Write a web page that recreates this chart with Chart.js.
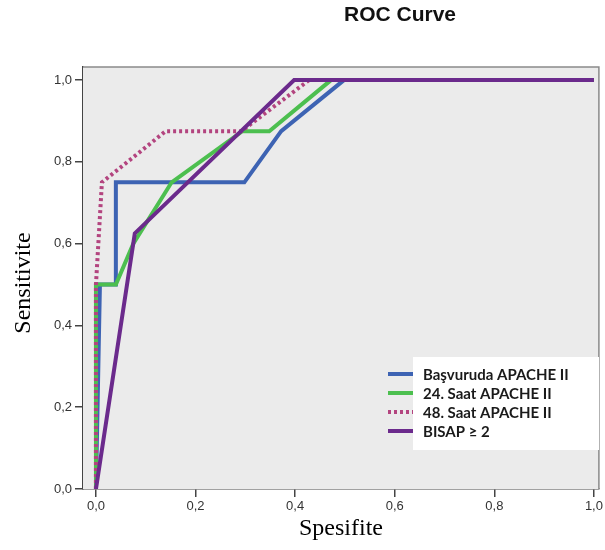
<!DOCTYPE html>
<html>
<head>
<meta charset="utf-8">
<script src="https://cdn.jsdelivr.net/npm/chart.js@4.4.0/dist/chart.umd.min.js"></script>
<style>
  html, body { margin: 0; padding: 0; background: #fff; }
  #wrap { width: 605px; height: 550px; }
</style>
</head>
<body>
<div id="wrap"><canvas id="roc" width="605" height="550"></canvas></div>
<script>
// ---- veriler ----
const seriesNames = ["Başvuruda APACHE II", "24. Saat APACHE II", "48. Saat APACHE II", "BISAP ≥ 2"];
const seriesColors = ["#3d63b3", "#4cbf4f", "#b3447f", "#6b2a8c"];

const basvuruX = [0, 0.008, 0.04, 0.04, 0.298, 0.372, 0.498, 1];
const basvuruY = [0, 0.5, 0.5, 0.75, 0.75, 0.875, 1, 1];
const saat24X = [0, 0, 0.04, 0.075, 0.152, 0.294, 0.348, 0.472, 1];
const saat24Y = [0, 0.5, 0.5, 0.6, 0.75, 0.875, 0.875, 1, 1];
const saat48X = [0, 0, 0.012, 0.14, 0.292, 0.428, 1];
const saat48Y = [0, 0.5, 0.75, 0.875, 0.875, 1, 1];
const bisapX = [0, 0.078, 0.398, 1];
const bisapY = [0, 0.625, 1, 1];

const tickVals = [0, 0.2, 0.4, 0.6, 0.8, 1.0];

function toPoints(xs, ys) {
  return xs.map((x, i) => ({ x: x, y: ys[i] }));
}

// virgüllü etiket
function fmt(v) {
  return v.toFixed(1).replace(".", ",");
}

const allX = [basvuruX, saat24X, saat48X, bisapX];
const allY = [basvuruY, saat24Y, saat48Y, bisapY];
const drawOrder = [3, 2, 1, 0]; // mor en üstte

const datasets = seriesNames.map((name, i) => ({
  label: name,
  data: toPoints(allX[i], allY[i]),
  showLine: true,
  borderColor: seriesColors[i],
  backgroundColor: seriesColors[i],
  borderWidth: 4,
  borderDash: i === 2 ? [3, 3] : [],
  pointRadius: 0,
  tension: 0,
  order: drawOrder[i]
}));

// arka plan, çerçeve, başlıklar ve lejant
const decor = {
  id: "decor",
  beforeDatasetsDraw(chart) {
    const { ctx, chartArea: a } = chart;
    ctx.save();
    ctx.fillStyle = "#ebebeb";
    ctx.fillRect(a.left, a.top, a.right - a.left, a.bottom - a.top);
    ctx.strokeStyle = "#8a8a8a";
    ctx.lineWidth = 1.5;
    ctx.beginPath();
    ctx.moveTo(a.left, a.top);
    ctx.lineTo(a.right, a.top);
    ctx.lineTo(a.right, a.bottom);
    ctx.stroke();
    ctx.restore();
  },
  afterDraw(chart) {
    const ctx = chart.ctx;
    ctx.save();
    // başlık
    ctx.fillStyle = "#111";
    ctx.font = "bold 21px 'Liberation Sans', Arial, sans-serif";
    ctx.textAlign = "center";
    ctx.textBaseline = "middle";
    ctx.fillText("ROC Curve", 400, 15);

    // eksen başlıkları
    ctx.font = "24px 'Liberation Serif', 'Times New Roman', serif";
    ctx.fillStyle = "#000";
    ctx.fillText("Spesifite", 341, 529);
    ctx.save();
    ctx.translate(24, 283);
    ctx.rotate(-Math.PI / 2);
    ctx.fillText("Sensitivite", 0, 0);
    ctx.restore();

    // lejant
    ctx.fillStyle = "#ffffff";
    ctx.fillRect(413, 357, 186, 93);
    const rows = [374, 393, 412, 431];
    ctx.font = "bold 15px Lato, 'Liberation Sans', sans-serif";
    ctx.textAlign = "left";
    seriesNames.forEach((name, i) => {
      ctx.strokeStyle = seriesColors[i];
      ctx.lineWidth = 4;
      ctx.setLineDash(i === 2 ? [3, 3] : []);
      ctx.beginPath();
      ctx.moveTo(388, rows[i]);
      ctx.lineTo(413, rows[i]);
      ctx.stroke();
      ctx.setLineDash([]);
      ctx.fillStyle = "#1a1a1a";
      ctx.fillText(name, 423, rows[i] + 1);
    });
    ctx.restore();
  }
};

const tickFont = { family: "'Liberation Sans', Arial, sans-serif", size: 13 };

new Chart(document.getElementById("roc"), {
  type: "scatter",
  data: { datasets: datasets },
  options: {
    responsive: false,
    animation: false,
    layout: { padding: { top: 67, right: 4, left: 0, bottom: 0 } },
    plugins: {
      legend: { display: false },
      tooltip: { enabled: false }
    },
    scales: {
      x: {
        type: "linear",
        min: -0.026,
        max: 1.01,
        afterBuildTicks: s => { s.ticks = tickVals.map(v => ({ value: v })); },
        afterFit: s => { s.height = 61; },
        grid: { display: true, drawOnChartArea: false, drawTicks: true, tickLength: 8, color: "#444", lineWidth: 1.5 },
        border: { display: true, color: "#444", width: 1.5 },
        ticks: { font: tickFont, color: "#333", padding: 2, maxRotation: 0, callback: v => fmt(v) }
      },
      y: {
        type: "linear",
        min: 0,
        max: 1.032,
        afterBuildTicks: s => { s.ticks = tickVals.map(v => ({ value: v })); },
        afterFit: s => { s.width = 83; },
        grid: { display: true, drawOnChartArea: false, drawTicks: true, tickLength: 8, color: "#444", lineWidth: 1.5 },
        border: { display: true, color: "#444", width: 1.5 },
        ticks: { font: tickFont, color: "#333", padding: 3, callback: v => fmt(v) }
      }
    }
  },
  plugins: [decor]
});
</script>
</body>
</html>
